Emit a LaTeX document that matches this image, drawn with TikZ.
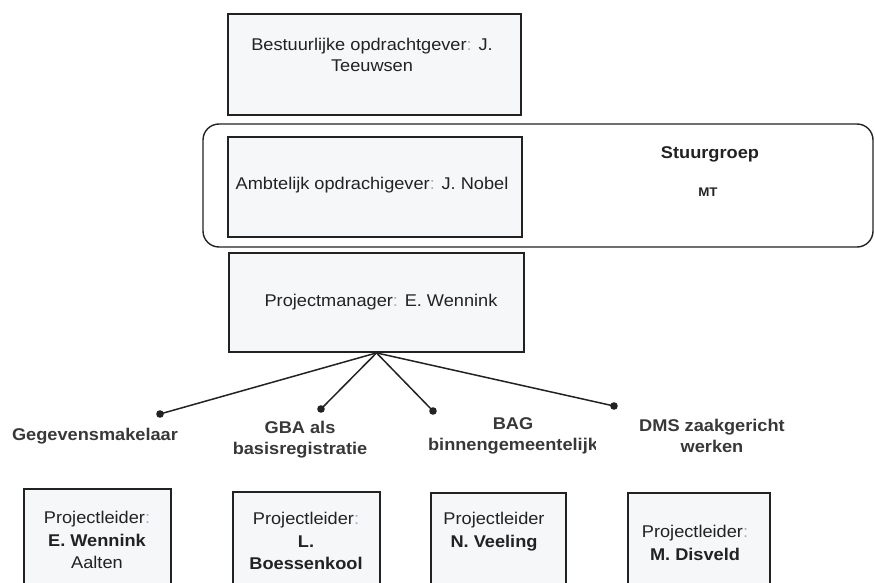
\documentclass[tikz,border=0pt]{standalone}
\usepackage{fontspec}
\setmainfont{Liberation Sans}[FakeStretch=1.07]
\definecolor{ink}{HTML}{222222}
\definecolor{lbl}{HTML}{383838}
\definecolor{boxfill}{HTML}{F5F7F9}
\definecolor{dim}{HTML}{A8AEB8}
\newcommand{\gc}{\textcolor{dim}{:}}
\begin{document}
\begin{tikzpicture}[x=1pt,y=-1pt,
  box/.style={draw=ink, line width=1.8pt, fill=boxfill, inner sep=0pt},
  group/.style={draw=ink, line width=1.4pt, rounded corners=16pt, inner sep=0pt},
  txt/.style={text=ink, font=\fontsize{17}{21}\selectfont, align=center, inner sep=0pt},
  boxtxt/.style={text=ink, font=\fontsize{17}{22.5}\selectfont, align=center, inner sep=0pt},
  lbltxt/.style={text=lbl, font=\fontsize{17}{21}\selectfont\bfseries, align=center, inner sep=0pt},
  conn/.style={draw=ink, line width=1.5pt},
  dotmark/.style={fill=ink}]
\useasboundingbox (0,0) rectangle (875,583);
\clip (0,0) rectangle (875,583);

% top boxes
\node[box, minimum width=293pt, minimum height=101pt] (bo) at (374.5,64.5) {};
\node[txt] (botxt) at (372,55) {Bestuurlijke opdrachtgever\gc{} J.\\Teeuwsen};

\node[group, minimum width=670pt, minimum height=123pt] (sg) at (538,185.5) {};
\node[box, minimum width=294pt, minimum height=100pt] (ao) at (375,187) {};
\node[txt] (aotxt) at (372,185) {Ambtelijk opdrachigever\gc{} J. Nobel};
\node[txt, font=\fontsize{17}{21}\selectfont\bfseries] (sgtxt) at (710,154) {Stuurgroep};
\node[txt, font=\fontsize{12.5}{15}\selectfont\bfseries] (mt) at (708,192) {MT};

\node[box, minimum width=295pt, minimum height=99pt] (pm) at (376.5,302.5) {};
\node[txt] (pmtxt) at (381,302) {Projectmanager\gc{} E. Wennink};

% connectors
\coordinate (d1) at (160,414);
\coordinate (d2) at (321,409);
\coordinate (d3) at (433,411);
\coordinate (d4) at (614,406);
\foreach \d in {d1,d2,d3,d4} {
  \draw[conn] (pm.south) -- (\d);
  \fill[dotmark] (\d) circle (3.8pt);
}

% labels
\node[lbltxt] (l1) at (95,436) {Gegevensmakelaar};
\node[lbltxt] (l2) at (300,440) {GBA als\\basisregistratie};
\begin{scope}
  \clip (400,410) rectangle (595,460);
  \node[lbltxt] (l3) at (513,436) {BAG\\binnengemeentelijk};
\end{scope}
\node[lbltxt] (l4) at (712,436) {DMS zaakgericht\\werken};

% bottom boxes
\node[box, minimum width=147pt, minimum height=112pt] (p1) at (97.5,545) {};
\node[box, minimum width=147pt, minimum height=110pt] (p2) at (306.5,547) {};
\node[box, minimum width=135pt, minimum height=110pt] (p3) at (498.5,548) {};
\node[box, minimum width=142pt, minimum height=110pt] (p4) at (699,548) {};

\node[boxtxt] (t1) at (97,540) {Projectleider\gc\\\textbf{E. Wennink}\\Aalten};
\node[boxtxt] (t2) at (306,541) {Projectleider\gc\\\textbf{L.}\\\textbf{Boessenkool}};
\node[boxtxt] (t3) at (494,531.5) {Projectleider\\\textbf{N. Veeling}};
\node[boxtxt] (t4) at (695,543) {Projectleider\gc\\\textbf{M. Disveld}};
\end{tikzpicture}
\end{document}
